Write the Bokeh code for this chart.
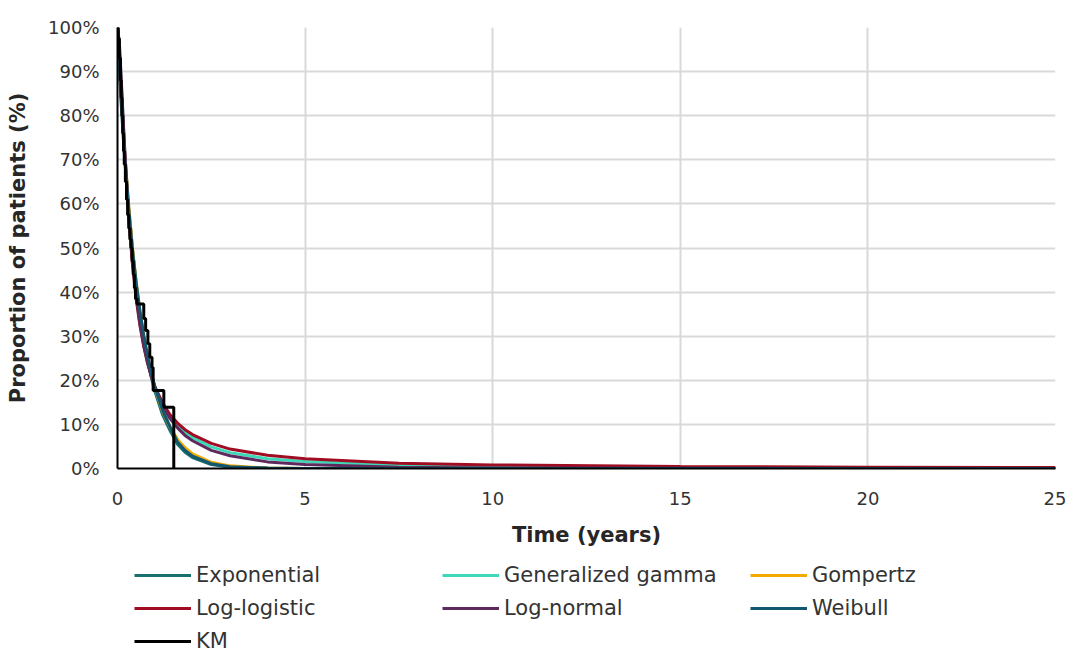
from bokeh.plotting import figure
from bokeh.layouts import column
from bokeh.models import Range1d, FixedTicker, PrintfTickFormatter, Legend, LegendItem
from bokeh.embed import file_html
from bokeh.resources import INLINE

# ---- data ----
time_years = [0, 0.05, 0.1, 0.15, 0.2, 0.3, 0.4, 0.5, 0.6, 0.7, 0.8, 0.9, 1.0, 1.2, 1.4,
              1.6, 1.8, 2.0, 2.5, 3.0, 4.0, 5.0, 7.5, 10, 15, 20, 25]
exponential = [100, 91.6, 83.9, 76.9, 70.5, 59.2, 49.7, 41.7, 35.0, 29.4, 24.7, 20.7, 17.4, 12.2, 8.6,
               5.5, 3.7, 2.5, 0.9, 0.3, 0.05, 0.0, 0, 0, 0, 0, 0]
gen_gamma = [100, 95.5, 87.4, 79.0, 70.8, 57.0, 46.8, 38.8, 32.6, 27.9, 24.1, 21.0, 18.4, 14.6, 11.8,
             9.8, 8.2, 7.0, 4.9, 3.6, 2.2, 1.6, 0.75, 0.45, 0.2, 0.1, 0.06]
gompertz = [100, 91.5, 83.8, 76.8, 70.4, 59.3, 49.9, 42.1, 35.5, 30.0, 25.4, 21.5, 18.2, 13.0, 9.4,
            6.6, 4.7, 3.3, 1.4, 0.6, 0.1, 0.0, 0, 0, 0, 0, 0]
log_logistic = [100, 94.6, 86.5, 78.1, 70.1, 56.6, 46.2, 38.3, 32.3, 27.6, 23.9, 20.9, 18.5, 14.9, 12.2,
                10.3, 8.8, 7.7, 5.7, 4.4, 3.0, 2.2, 1.2, 0.8, 0.45, 0.29, 0.21]
log_normal = [100, 96.6, 88.3, 79.4, 71.2, 57.6, 47.2, 39.2, 33.0, 28.1, 24.2, 21.0, 18.3, 14.3, 11.3,
              9.2, 7.5, 6.3, 4.1, 2.9, 1.5, 0.9, 0.3, 0.14, 0.04, 0.02, 0.01]
weibull = [100, 90.5, 82.5, 75.5, 69.3, 58.5, 49.5, 42.0, 35.6, 30.2, 25.6, 21.7, 18.4, 13.2, 9.5,
           6.0, 4.1, 2.8, 1.1, 0.4, 0.1, 0.0, 0, 0, 0, 0, 0]

km_time = [0, 0.02, 0.05, 0.08, 0.10, 0.12, 0.14, 0.16, 0.18, 0.21, 0.24, 0.27, 0.30, 0.33, 0.36,
           0.39, 0.42, 0.45, 0.48, 0.52, 0.70, 0.75, 0.81, 0.86, 0.92, 0.95, 1.235, 1.50]
km_surv = [100, 97.5, 93, 88, 84, 80, 76, 72, 69, 65, 61, 57.5, 54.5, 52, 50,
           47, 44, 41, 38.5, 37.3, 34, 31.3, 28.3, 25.2, 22.9, 17.7, 13.9, 0]

series_names = ["Exponential", "Generalized gamma", "Gompertz", "Log-logistic", "Log-normal", "Weibull"]
series_values = [exponential, gen_gamma, gompertz, log_logistic, log_normal, weibull]
series_colors = ["#17706E", "#3ED8B8", "#F2A900", "#A00D22", "#5E2A5E", "#12566F"]

x_ticks = [0, 5, 10, 15, 20, 25]
y_ticks = [0, 10, 20, 30, 40, 50, 60, 70, 80, 90, 100]

FONT = "DejaVu Sans"
W = 1066

p = figure(width=W, height=553, x_range=Range1d(0, 25), y_range=Range1d(0, 100),
           output_backend="svg", toolbar_location=None,
           min_border_left=117, min_border_right=11, min_border_top=27, min_border_bottom=85)
p.outline_line_color = None
p.background_fill_color = "white"
p.border_fill_color = "white"

# grid
p.xgrid.ticker = FixedTicker(ticks=x_ticks)
p.ygrid.ticker = FixedTicker(ticks=y_ticks)
for g in (p.xgrid, p.ygrid):
    g.grid_line_color = "#D9D9D9"
    g.grid_line_width = 2

# axes
p.xaxis.ticker = FixedTicker(ticks=x_ticks)
p.yaxis.ticker = FixedTicker(ticks=y_ticks)
p.yaxis.formatter = PrintfTickFormatter(format="%d%%")
for ax in (p.xaxis, p.yaxis):
    ax.axis_line_color = "black"
    ax.axis_line_width = 2
    ax.major_tick_line_color = None
    ax.minor_tick_line_color = None
    ax.major_tick_out = 0
    ax.major_tick_in = 0
    ax.major_label_text_font = FONT
    ax.major_label_text_font_size = "18px"
    ax.major_label_text_color = "#333333"
    ax.axis_label_text_font = FONT
    ax.axis_label_text_font_size = "21px"
    ax.axis_label_text_font_style = "bold"
    ax.axis_label_text_color = "#262626"
p.xaxis.axis_label = "Time (years)"
p.yaxis.axis_label = "Proportion of patients (%)"
p.xaxis.major_label_standoff = 23
p.yaxis.major_label_standoff = 18
p.xaxis.axis_label_standoff = 15
p.yaxis.axis_label_standoff = 15

for name, vals, col in zip(series_names, series_values, series_colors):
    p.line(time_years, vals, line_color=col, line_width=3)
p.step(km_time, km_surv, mode="after", line_color="black", line_width=3)

# ---- legend strip below the chart (its own series lie outside its view) ----
lg = figure(width=W, height=100, x_range=Range1d(0, 25), y_range=Range1d(1000, 1100),
            output_backend="svg", toolbar_location=None,
            x_axis_location=None, y_axis_location=None,
            min_border_left=0, min_border_right=0, min_border_top=0, min_border_bottom=0)
lg.outline_line_color = None
lg.grid.visible = False
lg.background_fill_color = "white"
lg.border_fill_color = "white"

items = []
for name, vals, col in zip(series_names, series_values, series_colors):
    r = lg.line(time_years, vals, line_color=col, line_width=3)
    items.append(LegendItem(label=name, renderers=[r]))
r = lg.step(km_time, km_surv, mode="after", line_color="black", line_width=3)
items.append(LegendItem(label="KM", renderers=[r]))

legend = Legend(items=items, location=(17, 0), orientation="horizontal", ncols=3)
legend.background_fill_alpha = 0
legend.border_line_color = None
legend.padding = 0
legend.margin = 0
legend.spacing = 9
legend.glyph_width = 57
legend.glyph_height = 20
legend.label_standoff = 5
legend.label_width = 237
legend.label_text_font = FONT
legend.label_text_font_size = "21px"
legend.label_text_color = "#333333"
lg.add_layout(legend, "center")

open("out.html", "w").write(file_html(column(p, lg), INLINE))
